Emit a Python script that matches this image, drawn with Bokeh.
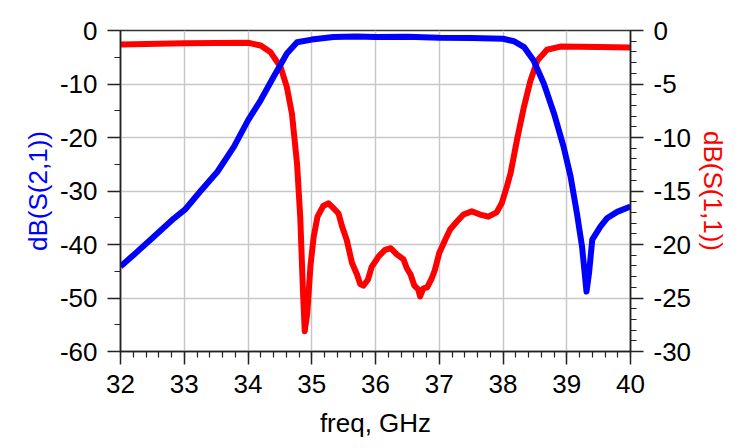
from bokeh.plotting import figure
from bokeh.models import Range1d, LinearAxis, FixedTicker
from bokeh.embed import file_html
from bokeh.resources import INLINE

# S21 (left axis)
s21_freq = [32.0, 32.21, 32.47, 32.84, 33.01, 33.25, 33.52, 33.78, 34.0, 34.2, 34.4, 34.61,
            34.77, 35.0, 35.34, 35.7, 36.0, 36.5, 37.0, 37.5, 38.0, 38.17, 38.33, 38.48,
            38.64, 38.8, 38.95, 39.06, 39.16, 39.24, 39.31, 39.35, 39.4, 39.53, 39.63, 39.79, 40.0]
s21_db = [-44.1, -41.9, -39.1, -35.1, -33.5, -30.1, -26.4, -21.7, -16.8, -13.0, -8.7, -4.3,
          -2.2, -1.7, -1.2, -1.1, -1.2, -1.15, -1.35, -1.4, -1.55, -2.0, -3.1, -5.6,
          -9.9, -15.5, -21.7, -27.3, -34.2, -40.4, -48.8, -45.3, -39.1, -36.6, -35.1, -33.9, -32.9]

# S11 (right axis)
s11_freq = [32.0, 33.0, 34.0, 34.2, 34.35, 34.51, 34.61, 34.69, 34.77, 34.82, 34.86, 34.89,
            34.93, 34.98, 35.03, 35.09, 35.18, 35.26, 35.34, 35.42, 35.47, 35.55, 35.63,
            35.71, 35.76, 35.81, 35.88, 35.94, 36.05, 36.15, 36.24, 36.33, 36.44, 36.49,
            36.55, 36.61, 36.67, 36.70, 36.75, 36.81, 36.88, 36.93, 37.0, 37.09, 37.17,
            37.27, 37.38, 37.51, 37.64, 37.77, 37.9, 37.98, 38.06, 38.12, 38.22, 38.33,
            38.43, 38.54, 38.69, 38.9, 39.5, 40.0]
s11_db = [-1.3, -1.2, -1.15, -1.4, -2.0, -3.4, -5.3, -7.8, -12.5, -17.5, -24.0, -28.1,
          -26.4, -22.0, -19.3, -17.4, -16.4, -16.15, -16.6, -17.1, -18.2, -19.6, -21.7,
          -22.8, -23.7, -23.85, -23.3, -22.1, -21.1, -20.5, -20.35, -20.9, -21.4, -22.2,
          -22.8, -23.85, -24.2, -24.85, -24.1, -24.0, -23.2, -22.4, -20.8, -19.6, -18.6,
          -17.9, -17.2, -16.9, -17.2, -17.4, -17.0, -16.15, -14.6, -13.3, -10.2, -7.1,
          -4.7, -2.8, -1.8, -1.5, -1.55, -1.6]

x_ticks = [32, 33, 34, 35, 36, 37, 38, 39, 40]
x_minor = [32 + 0.2 * i for i in range(41)]
left_ticks = [0, -10, -20, -30, -40, -50, -60]
left_labels = ["0", "-10", "-20", "-30", "-40", "-50", "-60"]
left_minor = [-5 * i for i in range(13)]
right_ticks = [0, -5, -10, -15, -20, -25, -30]
right_labels = ["0", "-5", "-10", "-15", "-20", "-25", "-30"]
right_minor = [-i for i in range(31)]

FONT = "Liberation Sans"
FS = "26px"

p = figure(width=737, height=440, output_backend="svg", toolbar_location=None,
           x_range=Range1d(32, 40), y_range=Range1d(-60, 0),
           min_border_left=120, min_border_right=107, min_border_top=30, min_border_bottom=88)
p.extra_y_ranges = {"s11": Range1d(-30, 0)}

p.outline_line_color = "#333333"
p.outline_line_width = 1.5
p.background_fill_color = "white"
p.border_fill_color = "white"

p.xaxis.ticker = FixedTicker(ticks=x_ticks, minor_ticks=x_minor)
p.yaxis.ticker = FixedTicker(ticks=left_ticks, minor_ticks=left_minor)
p.yaxis[0].major_label_overrides = {t: s for t, s in zip(left_ticks, left_labels)}

p.xgrid.grid_line_color = "#c8c8c8"
p.ygrid.grid_line_color = "#c8c8c8"
p.xgrid.grid_line_width = 1.5
p.ygrid.grid_line_width = 1.5

right_axis = LinearAxis(y_range_name="s11",
                        ticker=FixedTicker(ticks=right_ticks, minor_ticks=right_minor))
right_axis.major_label_overrides = {t: s for t, s in zip(right_ticks, right_labels)}
p.add_layout(right_axis, "right")

for ax in [p.xaxis[0], p.yaxis[0], right_axis]:
    ax.major_label_text_font = FONT
    ax.major_label_text_font_size = FS
    ax.major_label_text_color = "black"
    ax.axis_label_text_font = FONT
    ax.axis_label_text_font_size = FS
    ax.axis_label_text_font_style = "normal"
    ax.axis_line_color = "#222222"
    ax.axis_line_width = 1.5
    ax.major_tick_line_color = "#222222"
    ax.minor_tick_line_color = "#222222"
    ax.major_tick_line_width = 1.5
    ax.minor_tick_line_width = 1.2
    ax.major_tick_in = 0
    ax.major_tick_out = 13
    ax.minor_tick_in = 0
    ax.minor_tick_out = 6
    ax.major_label_standoff = 10

p.xaxis[0].axis_label = "freq, GHz"
p.xaxis[0].axis_label_text_color = "black"
p.yaxis[0].axis_label = "dB(S(2,1))"
p.yaxis[0].axis_label_text_color = "#0000ff"
right_axis.axis_label = "dB(S(1,1))"
right_axis.axis_label_text_color = "#ff0000"
p.xaxis[0].axis_label_standoff = 12
p.yaxis[0].axis_label_standoff = 4
right_axis.axis_label_standoff = 4

p.line(s11_freq, s11_db, y_range_name="s11", line_color="#ff0000", line_width=6,
       line_join="round")
p.line(s21_freq, s21_db, line_color="#0000ff", line_width=6, line_join="round")

open("out.html", "w").write(file_html(p, INLINE))
